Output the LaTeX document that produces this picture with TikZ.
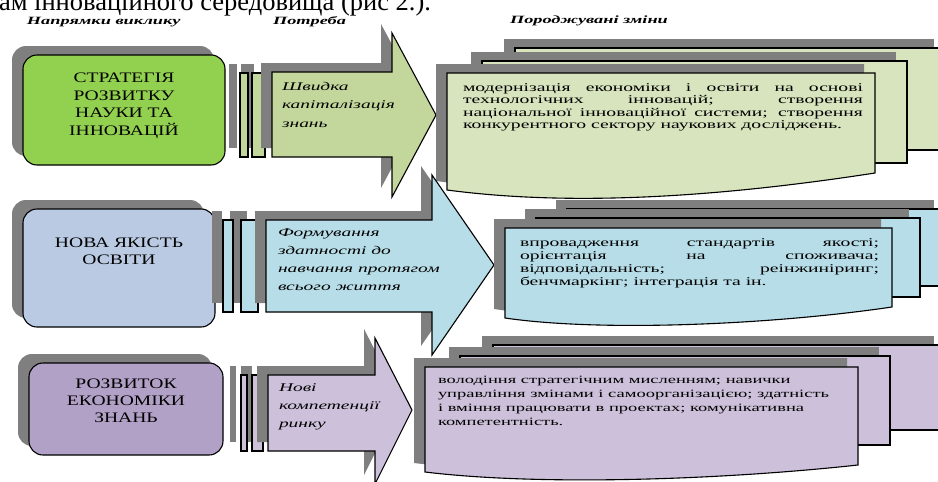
\documentclass[tikz,border=0pt]{standalone}
\usepackage{fontspec}
\setmainfont{Liberation Serif}
\newfontfamily\capfont[FakeStretch=1.35]{Liberation Serif}
\newfontfamily\picfont[FakeStretch=1.65]{Liberation Serif}
\definecolor{shd}{HTML}{7F7F7F}
\definecolor{gA}{HTML}{92D050}
\definecolor{gB}{HTML}{C3D69B}
\definecolor{gC}{HTML}{D7E4BD}
\definecolor{bA}{HTML}{B9CAE2}
\definecolor{bB}{HTML}{B7DDE8}
\definecolor{pA}{HTML}{B2A1C7}
\definecolor{pB}{HTML}{CCC0DA}
\newcommand\Lns[2]{\vtop{\baselineskip=#1\lineskiplimit=-50pt\lineskip=0pt\relax#2}}
\newcommand\Ctr[1]{\hbox to 0pt{\hss#1\hss}}
\newcommand\Jst[2]{\hbox to #1{\spaceskip=0.3em plus 1fil\relax#2}}
\newcommand\Lft[1]{\hbox{#1}}
\begin{document}
\begin{tikzpicture}[x=1pt,y=-1pt,line join=miter,
  sh/.style={fill=shd,draw=none},
  ol/.style={draw=black,line width=1.1pt},
  shf/.style={shift={(-11,-9)}},
  lbox/.style={ol,rounded corners=14pt,inner sep=0pt},
  barbox/.style={ol,inner sep=0pt},
  txt/.style={inner sep=0pt,outer sep=0pt},
  captext/.style={txt,anchor=base,font=\capfont\fontsize{14.5}{17.7}\selectfont},
  arrtext/.style={txt,anchor=base west,font=\picfont\itshape\fontsize{11.8}{18}\selectfont},
  doctext/.style={txt,anchor=base west},
  headtext/.style={txt,anchor=base west,font=\picfont\bfseries\itshape\fontsize{11.1}{13}\selectfont}]
\fill[white] (0,0) rectangle (938,482);
\useasboundingbox (0,0) rectangle (938,482);

% top line of running text
\node[txt,anchor=base west,font=\fontsize{26.5}{30}\selectfont] (toptext) at (-1,10) {ам інноваційного середовища (рис 2.).};

% headers
\node[headtext] (h1) at (27,24) {Напрямки виклику};
\node[headtext] (h2) at (273,24) {Потреба};
\node[headtext] (h3) at (510,23) {Породжувані зміни};

% ================= ROW 1 =================
\fill[sh,rounded corners=14pt] (12,46) rectangle (214,156);
\node[lbox,fill=gA,minimum width=202pt,minimum height=110pt] (L1) at (124,110) {};
\fill[sh] (229,64) rectangle (237,148);
\fill[sh] (241,64) rectangle (254,148);
\node[barbox,fill=gB,minimum width=8pt,minimum height=84pt] (B1a) at (244,115) {};
\node[barbox,fill=gB,minimum width=13pt,minimum height=84pt] (B1b) at (258.5,115) {};
\fill[sh,shf] (272,72) -- (392,72) -- (392,33) -- (436,115) -- (392,197) -- (392,157) -- (272,157) -- cycle;
\draw[ol,fill=gB] (272,72) -- (392,72) -- (392,33) -- (436,115) -- (392,197) -- (392,157) -- (272,157) -- cycle;
\fill[sh,shf] (515,48) rectangle (945,150);
\draw[ol,fill=gC] (515,48) rectangle (945,150);
\fill[sh,shf] (482,61) rectangle (907,163);
\draw[ol,fill=gC] (482,61) rectangle (907,163);
\fill[sh,shf] (447,73) -- (875,73) -- (875,173) .. controls (700,200) and (560,205) .. (447,190) -- cycle;
\draw[ol,fill=gC] (447,73) -- (875,73) -- (875,173) .. controls (700,200) and (560,205) .. (447,190) -- cycle;
\node[captext] (C1) at (124,82.5) {\Lns{17.7pt}{\Ctr{СТРАТЕГІЯ}\Ctr{РОЗВИТКУ}\Ctr{НАУКИ ТА}\Ctr{ІННОВАЦІЙ}}};
\node[arrtext] (A1) at (282,90) {\Lns{18.5pt}{\Lft{Швидка}\Lft{капіталізація}\Lft{знань}}};
\node[doctext,font=\picfont\fontsize{11.9}{12.6}\selectfont] (D1) at (463,91) {\Lns{12.6pt}{%
\Jst{400pt}{модернізація економіки і освіти на основі}%
\Jst{400pt}{технологічних інновацій; створення}%
\Jst{400pt}{національної інноваційної системи; створення}%
\Lft{конкурентного сектору наукових досліджень.}}};

% ================= ROW 2 =================
\fill[sh,rounded corners=14pt] (12,200) rectangle (204,318);
\node[lbox,fill=bA,minimum width=192pt,minimum height=118pt] (L2) at (119,268) {};
\fill[sh] (212,211) rectangle (222,303);
\fill[sh] (230,211) rectangle (247,303);
\node[barbox,fill=bB,minimum width=10pt,minimum height=92pt] (B2a) at (228,266) {};
\node[barbox,fill=bB,minimum width=17pt,minimum height=92pt] (B2b) at (249.5,266) {};
\fill[sh,shf] (266,220) -- (432,220) -- (432,175) -- (494,265) -- (432,355) -- (432,312) -- (266,312) -- cycle;
\draw[ol,fill=bB] (266,220) -- (432,220) -- (432,175) -- (494,265) -- (432,355) -- (432,312) -- (266,312) -- cycle;
\fill[sh,shf] (567,209) rectangle (945,286);
\draw[ol,fill=bB] (567,209) rectangle (945,286);
\fill[sh,shf] (536,218) rectangle (920,297);
\draw[ol,fill=bB] (536,218) rectangle (920,297);
\fill[sh,shf] (505,228) -- (892,228) -- (892,307) .. controls (770,325) and (600,332) .. (505,318) -- cycle;
\draw[ol,fill=bB] (505,228) -- (892,228) -- (892,307) .. controls (770,325) and (600,332) .. (505,318) -- cycle;
\node[captext] (C2) at (119,247) {\Lns{17pt}{\Ctr{НОВА ЯКІСТЬ}\Ctr{ОСВІТИ}}};
\node[arrtext] (A2) at (278,236) {\Lns{18pt}{\Lft{Формування}\Lft{здатності до}\Lft{навчання протягом}\Lft{всього життя}}};
\node[doctext,font=\picfont\fontsize{11.9}{13.3}\selectfont] (D2) at (520,246) {\Lns{13.3pt}{%
\Jst{359pt}{впровадження стандартів якості;}%
\Jst{359pt}{орієнтація на споживача;}%
\Jst{359pt}{відповідальність; реінжиніринг;}%
\Lft{бенчмаркінг; інтеграція та ін.}}};

% ================= ROW 3 =================
\fill[sh,rounded corners=14pt] (18,354) rectangle (212,446);
\node[lbox,fill=pA,minimum width=194pt,minimum height=92pt] (L3) at (126,409) {};
\fill[sh] (230,366) rectangle (236,442);
\fill[sh] (241,366) rectangle (252,442);
\node[barbox,fill=pB,minimum width=6pt,minimum height=76pt] (B3a) at (244,413) {};
\node[barbox,fill=pB,minimum width=11pt,minimum height=76pt] (B3b) at (257.5,413) {};
\fill[sh,shf] (268,375) -- (375,375) -- (375,338) -- (412,410) -- (375,484) -- (375,451) -- (268,451) -- cycle;
\draw[ol,fill=pB] (268,375) -- (375,375) -- (375,338) -- (412,410) -- (375,484) -- (375,451) -- (268,451) -- cycle;
\fill[sh,shf] (493,345) rectangle (945,430);
\draw[ol,fill=pB] (493,345) rectangle (945,430);
\fill[sh,shf] (460,356) rectangle (890,445);
\draw[ol,fill=pB] (460,356) rectangle (890,445);
\fill[sh,shf] (425,367) -- (858,367) -- (858,465) .. controls (720,480) and (540,486) .. (425,472) -- cycle;
\draw[ol,fill=pB] (425,367) -- (858,367) -- (858,465) .. controls (720,480) and (540,486) .. (425,472) -- cycle;
\node[captext] (C3) at (126,388) {\Lns{17pt}{\Ctr{РОЗВИТОК}\Ctr{ЕКОНОМІКИ}\Ctr{ЗНАНЬ}}};
\node[arrtext] (A3) at (279,391) {\Lns{18pt}{\Lft{Нові}\Lft{компетенції}\Lft{ринку}}};
\node[doctext,font=\picfont\fontsize{11.2}{14}\selectfont] (D3) at (438,383) {\Lns{14pt}{%
\Lft{володіння стратегічним мисленням; навички}%
\Lft{управління змінами і самоорганізацією; здатність}%
\Lft{і вміння працювати в проектах; комунікативна}%
\Lft{компетентність.}}};
\end{tikzpicture}
\end{document}
